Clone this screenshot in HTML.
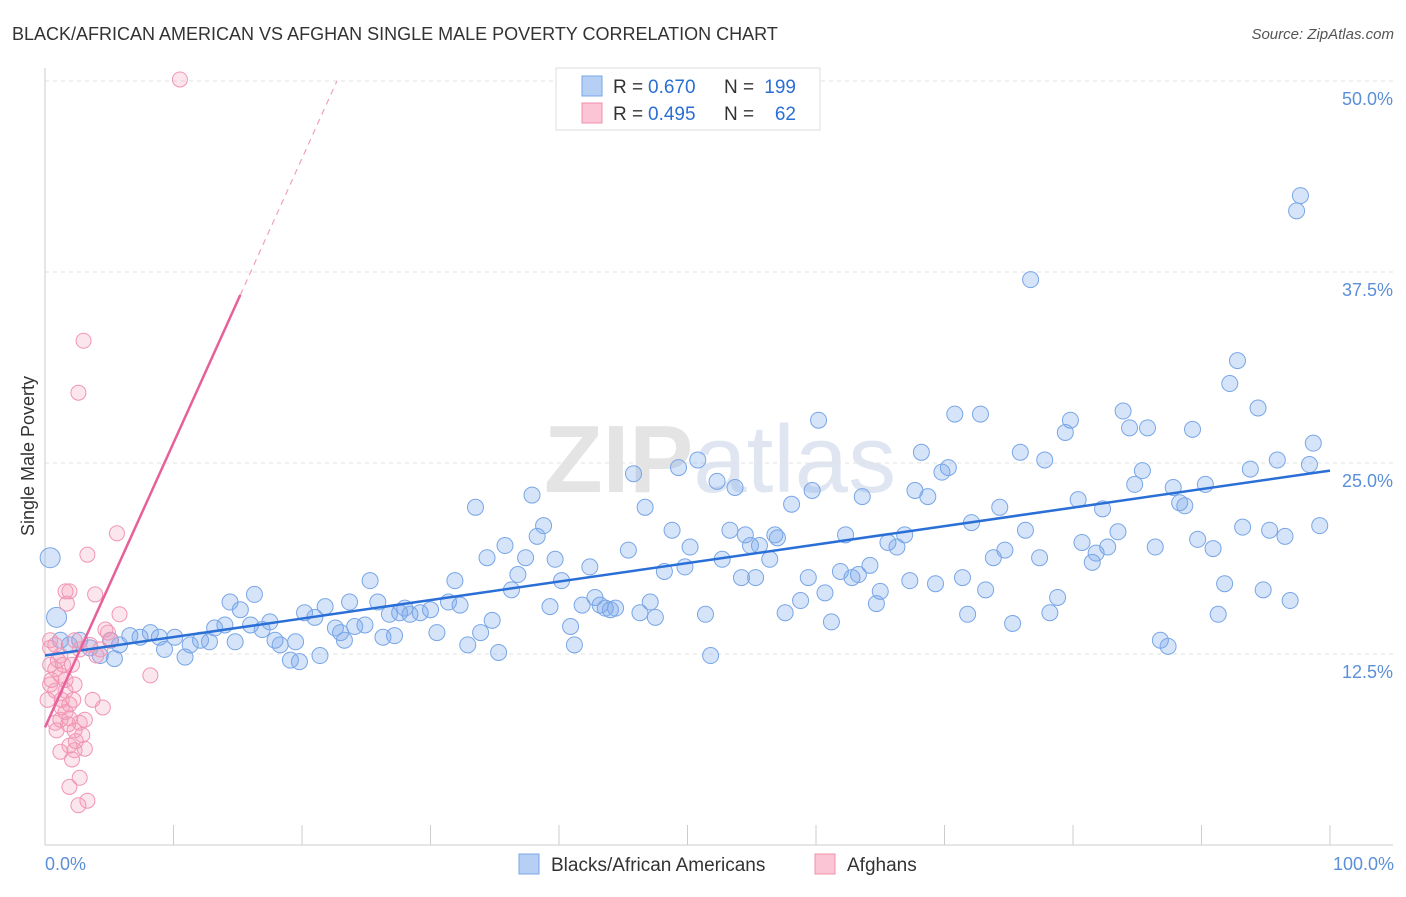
<!DOCTYPE html>
<html><head><meta charset="utf-8"><style>
body{margin:0;background:#fff;font-family:"Liberation Sans",sans-serif;}
svg text{font-family:"Liberation Sans",sans-serif;}
</style></head><body>
<svg id="chart" width="1406" height="892" xmlns="http://www.w3.org/2000/svg">
<text x="12" y="40" font-size="18" fill="#333">BLACK/AFRICAN AMERICAN VS AFGHAN SINGLE MALE POVERTY CORRELATION CHART</text>
<text x="1394" y="39" font-size="15" fill="#555" text-anchor="end" font-style="italic">Source: ZipAtlas.com</text>
<text x="720" y="492" font-size="96" fill="#e4e4e4" text-anchor="middle" font-family="Liberation Serif"><tspan font-weight="bold">ZIP</tspan><tspan fill="#dfe6f2" font-family="Liberation Sans">atlas</tspan></text>
<g id="grid"></g><g id="axes"></g>
<line x1="45" y1="68" x2="45" y2="845" stroke="#ccc"/>
<line x1="45" y1="845" x2="1393" y2="845" stroke="#ccc"/>
<text transform="translate(34,456) rotate(-90)" font-size="18" fill="#333" text-anchor="middle">Single Male Poverty</text>
<text x="45" y="870" font-size="18" fill="#5b8fd8">0.0%</text>
<text x="1394" y="870" font-size="18" fill="#5b8fd8" text-anchor="end">100.0%</text>
<g id="pts"></g><g id="lines"></g>
<g>
<rect x="556" y="68" width="264" height="62" fill="#fff" stroke="#ddd"/>
<rect x="582" y="76" width="20" height="20" fill="#b5cff5" stroke="#7aa5e6"/>
<rect x="582" y="103" width="20" height="20" fill="#fbc5d5" stroke="#f090ac"/>
<text x="613" y="93" font-size="19" fill="#333">R =</text>
<text x="648" y="93" font-size="19" fill="#2a6fd6">0.670</text>
<text x="724" y="93" font-size="19" fill="#333">N =</text>
<text x="796" y="93" font-size="19" fill="#2a6fd6" text-anchor="end">199</text>
<text x="613" y="120" font-size="19" fill="#333">R =</text>
<text x="648" y="120" font-size="19" fill="#2a6fd6">0.495</text>
<text x="724" y="120" font-size="19" fill="#333">N =</text>
<text x="796" y="120" font-size="19" fill="#2a6fd6" text-anchor="end">62</text>
</g>
<g>
<rect x="519" y="854" width="20" height="20" fill="#b5cff5" stroke="#7aa5e6"/>
<text x="551" y="871" font-size="19" fill="#333">Blacks/African Americans</text>
<rect x="815" y="854" width="20" height="20" fill="#fbc5d5" stroke="#f090ac"/>
<text x="847" y="871" font-size="19" fill="#333">Afghans</text>
</g>
</svg>
<script>
const yTicks=[12.5,25,37.5,50];
const yTickLabels=["12.5%","25.0%","37.5%","50.0%"];
const blueX=[0.4,0.9,1.2,1.9,2.7,3.5,4.3,5.1,5.4,5.8,6.6,7.4,8.2,8.9,9.3,10.1,10.9,11.3,12.1,12.8,13.2,14.0,14.4,14.8,15.2,16.0,16.3,16.9,17.5,17.9,18.3,19.1,19.5,19.8,20.2,21.0,21.4,21.8,22.6,23.0,23.3,23.7,24.1,24.9,25.3,25.9,26.3,26.8,27.2,27.6,28.0,28.4,29.2,30.0,30.5,31.4,31.9,32.3,32.9,33.5,33.9,34.4,34.8,35.3,35.8,36.3,36.8,37.4,37.9,38.3,38.8,39.3,39.7,40.2,40.9,41.2,41.8,42.4,42.8,43.2,43.6,44.0,44.4,45.4,45.8,46.3,46.7,47.1,47.5,48.2,48.8,49.3,49.8,50.2,50.8,51.4,51.8,52.3,52.7,53.3,53.7,54.2,54.5,54.9,55.3,55.6,56.4,56.8,57.0,57.6,58.1,58.8,59.4,59.7,60.2,60.7,61.2,61.9,62.3,62.8,63.3,63.6,64.2,64.7,65.0,65.6,66.3,66.9,67.3,67.7,68.2,68.7,69.3,69.8,70.3,70.8,71.4,71.8,72.1,72.8,73.2,73.8,74.3,74.7,75.3,75.9,76.3,76.7,77.4,77.8,78.2,78.8,79.4,79.8,80.4,80.7,81.5,81.8,82.3,82.7,83.5,83.9,84.4,84.8,85.4,85.8,86.4,86.8,87.4,87.8,88.3,88.7,89.3,89.7,90.3,90.9,91.3,91.8,92.2,92.8,93.2,93.8,94.4,94.8,95.3,95.9,96.5,96.9,97.4,97.7,98.4,98.7,99.2];
const blueY=[18.8,14.9,13.4,13.1,13.4,12.9,12.4,13.4,12.2,13.1,13.7,13.6,13.9,13.6,12.8,13.6,12.3,13.1,13.4,13.3,14.2,14.4,15.9,13.3,15.4,14.4,16.4,14.1,14.6,13.4,13.1,12.1,13.3,12.0,15.2,14.9,12.4,15.6,14.2,13.9,13.4,15.9,14.3,14.4,17.3,15.9,13.6,15.1,13.7,15.2,15.5,15.1,15.2,15.4,13.9,15.9,17.3,15.7,13.1,22.1,13.9,18.8,14.7,12.6,19.6,16.7,17.7,18.8,22.9,20.2,20.9,15.6,18.7,17.3,14.3,13.1,15.7,18.2,16.2,15.7,15.5,15.4,15.5,19.3,24.3,15.2,22.1,15.9,14.9,17.9,20.6,24.7,18.2,19.5,25.2,15.1,12.4,23.8,18.7,20.6,23.4,17.5,20.3,19.6,17.5,19.6,18.7,20.3,20.1,15.2,22.3,16.0,17.5,23.2,27.8,16.5,14.6,17.9,20.3,17.5,17.7,22.8,18.3,15.8,16.6,19.8,19.5,20.3,17.3,23.2,25.7,22.8,17.1,24.4,24.7,28.2,17.5,15.1,21.1,28.2,16.7,18.8,22.1,19.3,14.5,25.7,20.6,37.0,18.8,25.2,15.2,16.2,27.0,27.8,22.6,19.8,18.5,19.1,22.0,19.5,20.5,28.4,27.3,23.6,24.5,27.3,19.5,13.4,13.0,23.4,22.4,22.2,27.2,20.0,23.6,19.4,15.1,17.1,30.2,31.7,20.8,24.6,28.6,16.7,20.6,25.2,20.2,16.0,41.5,42.5,24.9,26.3,20.9];
const pinkX=[10.5,3.0,2.6,5.6,3.3,1.6,1.9,1.7,3.9,5.8,4.9,0.4,0.8,1.2,2.3,4.3,0.4,0.8,1.2,0.4,0.8,1.6,2.3,3.7,4.5,1.9,1.6,1.2,0.8,1.9,2.7,2.3,2.9,1.9,2.3,1.2,3.1,2.1,2.7,1.9,3.3,2.6,8.2,0.4,1.0,1.3,1.8,1.6,0.5,2.7,3.5,4.0,1.3,0.9,2.2,3.1,0.2,1.4,2.1,4.7,5.1,2.4];
const pinkY=[50.1,33.0,29.6,20.4,19.0,16.6,16.6,15.8,16.4,15.1,13.9,13.4,13.1,12.4,13.4,12.8,11.8,11.5,11.1,10.5,10.1,10.8,10.5,9.5,9.0,9.2,8.7,8.2,8.0,8.3,8.0,7.5,7.2,6.5,6.2,6.1,6.3,5.6,4.4,3.8,2.9,2.6,11.1,12.9,12.1,9.0,7.9,10.1,10.8,12.8,13.1,12.4,9.5,7.5,9.5,8.2,9.5,11.8,11.8,14.1,13.4,6.8];
const blueFit=[12.4,24.5];
const pinkFit=[7.7,36.0,15.2];
const NS="http://www.w3.org/2000/svg";
const X=v=>45+v*12.85, Y=v=>845-v*15.28;
function mk(t,a,p){const e=document.createElementNS(NS,t);for(const k in a)e.setAttribute(k,a[k]);document.getElementById(p).appendChild(e);return e;}
yTicks.forEach((t,i)=>{
 const l=mk('line',{x1:45,x2:1393,y1:Y(t),y2:Y(t),stroke:'#e2e2e2','stroke-dasharray':'4,4'},'grid');
 
 
 const tx=mk('text',{x:1393,y:Y(t)+24,'font-size':18,fill:'#5b8fd8','text-anchor':'end'},'grid');
 tx.textContent=yTickLabels[i];
 
 
});
for(let i=1;i<=10;i++){
 const l=mk('line',{x1:X(i*10),x2:X(i*10),y1:825,y2:845,stroke:'#ccc'},'axes');
 
 
}
blueX.forEach((x,i)=>{
 const r=i<2?10:8;
 const c=mk('circle',{cx:X(x),cy:Y(blueY[i]),r:r,fill:'rgba(120,165,235,0.3)',stroke:'#78a6e6','stroke-width':1},'pts');
 
 
});
pinkX.forEach((x,i)=>{
 const c=mk('circle',{cx:X(x),cy:Y(pinkY[i]),r:7.5,fill:'rgba(245,155,185,0.25)',stroke:'#f095b3','stroke-width':1},'pts');
 
 
});
const bl=mk('line',{x1:X(0),y1:Y(blueFit[0]),x2:X(100),y2:Y(blueFit[1]),stroke:'#2a6fd6','stroke-width':2.5},'lines');


const slope=(pinkFit[1]-pinkFit[0])/pinkFit[2];
const pl=mk('line',{x1:X(0),y1:Y(pinkFit[0]),x2:X(pinkFit[2]),y2:Y(pinkFit[1]),stroke:'#e8609a','stroke-width':2.5},'lines');


const xe=(50-pinkFit[0])/slope;
const pd=mk('line',{x1:X(pinkFit[2]),y1:Y(pinkFit[1]),x2:X(xe),y2:Y(50),stroke:'#f0a0be','stroke-width':1.2,'stroke-dasharray':'6,5'},'lines');


</script>
</body></html>
